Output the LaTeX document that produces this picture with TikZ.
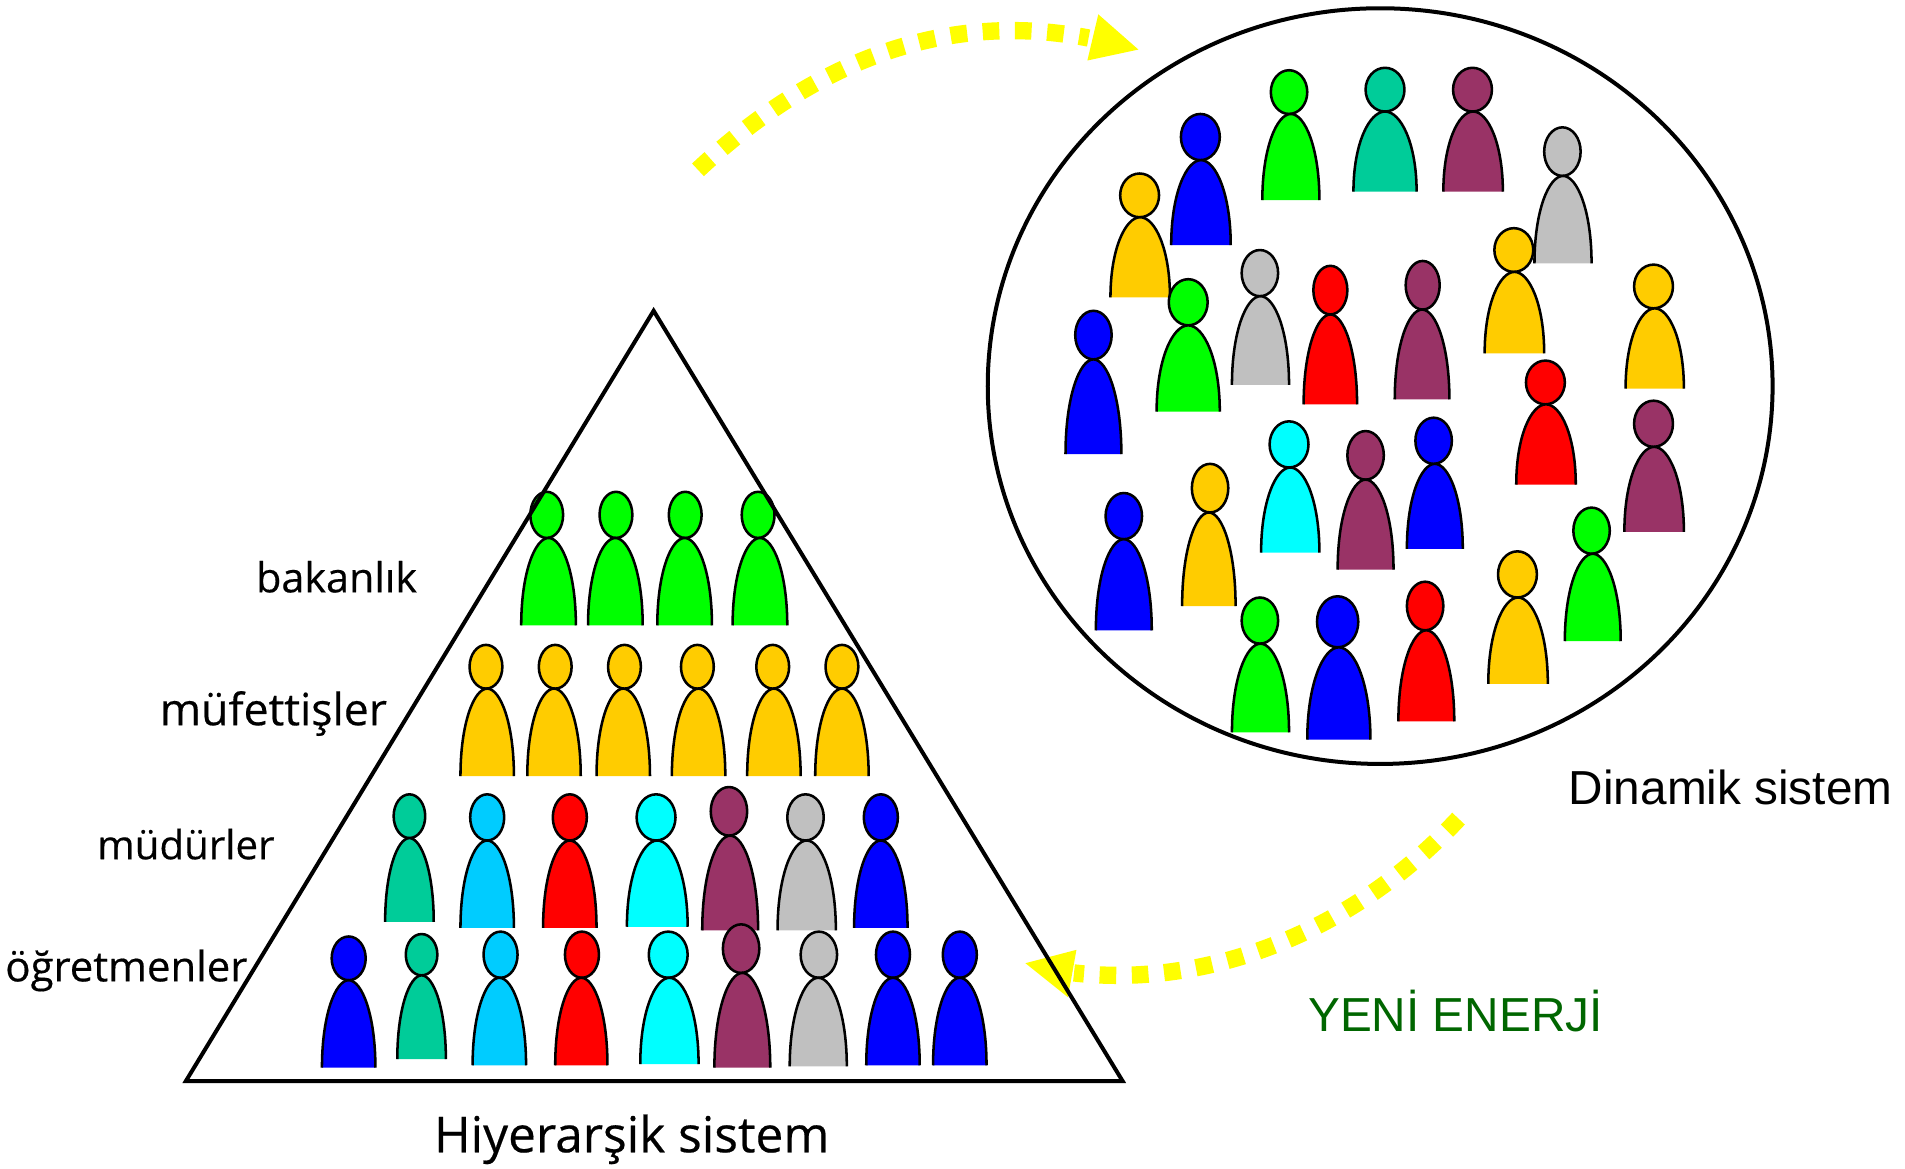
\documentclass[tikz,border=0pt]{standalone}
\usepackage{fontspec}
\setmainfont{Liberation Sans}
\newfontfamily\handfont[FakeBold=0.4]{Open Sans}
\definecolor{cgreen}{RGB}{0,255,0}
\definecolor{cgold}{RGB}{255,204,0}
\definecolor{cteal}{RGB}{0,204,153}
\definecolor{csky}{RGB}{0,204,255}
\definecolor{cred}{RGB}{255,0,0}
\definecolor{ccyan}{RGB}{0,255,255}
\definecolor{cplum}{RGB}{153,51,102}
\definecolor{csilver}{RGB}{192,192,192}
\definecolor{cblue}{RGB}{0,0,255}
\definecolor{cyellow}{RGB}{255,255,0}
\definecolor{cleaf}{RGB}{0,102,0}
\tikzset{
  figure/.style={draw=black,line width=1.9pt},
  frame/.style={draw=black,line width=3pt,line join=miter},
  flow/.style={draw=cyellow,line width=13pt,dash pattern=on 12.5pt off 11.7pt},
  flowhead/.style={fill=cyellow},
  rowlabel/.style={inner sep=0pt},
  syslabel/.style={font=\fontsize{35.8}{42}\selectfont,inner sep=0pt},
}
% head x, head y, head radius, body left, body right, body top, body bottom, colour
\newcommand{\person}[8]{%
  \pgfmathsetmacro{\bmid}{(#4+#5)/2}
  \pgfmathsetmacro{\bhw}{(#5-#4)/2}
  \pgfmathsetmacro{\bh}{#7-#6}
  \pgfmathsetmacro{\hry}{#6-#2}
  \draw[figure,fill=#8] (#1,#2) ellipse [x radius=#3, y radius=\hry];
  \fill[#8] (#4,#7) .. controls (#4,{#7-0.6*\bh}) and ({\bmid-0.5*\bhw},#6) .. (\bmid,#6)
    .. controls ({\bmid+0.5*\bhw},#6) and (#5,{#7-0.6*\bh}) .. (#5,#7) -- cycle;
  \draw[figure] (#4,#7) .. controls (#4,{#7-0.6*\bh}) and ({\bmid-0.5*\bhw},#6) .. (\bmid,#6)
    .. controls ({\bmid+0.5*\bhw},#6) and (#5,{#7-0.6*\bh}) .. (#5,#7);
}
\begin{document}
\begin{tikzpicture}[x=0.9112pt,y=0.9112pt,yscale=-1,xscale=1]
\useasboundingbox (0,-0.8) rectangle (1568,961.2);

% bakanlik
\foreach \hx/\bl in {450/429,507/484,564/541,624/603}
  \person{\hx}{423}{13.5}{\bl}{\the\numexpr\bl+45\relax}{442}{514}{cgreen};
% mufettisler
\foreach \hx/\bl in {400/379,457/434,514/491,574/553,636/615,693/671}
  \person{\hx}{548}{13.5}{\bl}{\the\numexpr\bl+44\relax}{566}{638}{cgold};
% mudurler
\foreach \hx/\hy/\rx/\bl/\br/\bt/\bb/\col in {
  337/671/13/317/357/689/758/cteal,
  401/672/14/379/423/691/763/csky,
  469/672/14/447/491/691/763/cred,
  540/672/16/516/566/691/762/ccyan,
  600/667/15/578/624/687/765/cplum,
  663/672/15/640/688/691/765/csilver,
  725/672/14/703/747/691/763/cblue}
  \person{\hx}{\hy}{\rx}{\bl}{\br}{\bt}{\bb}{\col};
% ogretmenler
\foreach \hx/\hy/\rx/\bl/\br/\bt/\bb/\col in {
  287/788/14/265/309/806/878/cblue,
  347/785/13/327/367/802/871/cteal,
  412/785/14/389/433/804/876/csky,
  479/785/14/457/500/804/876/cred,
  550/785/16/527/575/804/875/ccyan,
  610/780/15/588/634/800/878/cplum,
  674/785/15/650/697/804/877/csilver,
  735/785/14/713/757/804/876/cblue,
  790/785/14/768/812/804/876/cblue}
  \person{\hx}{\hy}{\rx}{\bl}{\br}{\bt}{\bb}{\col};

% dinamik grup
\foreach \hx/\hy/\rx/\bl/\br/\bt/\bb/\col in {
  1061/75/15/1039/1086/93/164/cgreen,
  1140/73/16/1114/1166/91/157/cteal,
  1212/73/16/1188/1237/91/157/cplum,
  988/112/16/964/1013/131/201/cblue,
  1286/124/15/1263/1310/144/216/csilver,
  938/160/16/914/963/178/244/cgold,
  1246/205/16/1222/1271/223/290/cgold,
  1037/224/15/1014/1061/243/316/csilver,
  1095/238/14/1073/1117/258/332/cred,
  1171/234/14/1148/1193/254/328/cplum,
  978/248/16/952/1004/267/338/cgreen,
  1361/235/16/1338/1386/253/319/cgold,
  900/275/15/877/923/295/373/cblue,
  1272/314/16/1248/1297/332/398/cred,
  1361/348/16/1337/1386/367/437/cplum,
  1061/365/16/1038/1086/384/454/ccyan,
  1124/374/15/1101/1147/394/468/cplum,
  1180/362/15/1158/1204/381/451/cblue,
  996/401/15/973/1017/421/498/cgold,
  925/424/15/902/948/443/518/cblue,
  1310/436/15/1288/1334/455/527/cgreen,
  1249/472/16/1225/1274/491/562/cgold,
  1173/498/15/1151/1197/518/593/cred,
  1101/511/17/1076/1128/532/608/cblue,
  1037/510/15/1014/1061/529/602/cgreen}
  \person{\hx}{\hy}{\rx}{\bl}{\br}{\bt}{\bb}{\col};

% yellow arrows
\coordinate (topstart) at (574.5,139);
\coordinate (topend) at (896,30.5);
\coordinate (lowstart) at (1200.5,673);
\coordinate (lowend) at (884,800);
\draw[flow] (topstart) .. controls (680,40) and (790,10) .. (topend);
\fill[flowhead] (904,11) -- (937,40) -- (895,49) -- cycle;
\draw[flow] (lowstart) .. controls (1110,770) and (990,812) .. (lowend);
\fill[flowhead] (886,781) -- (844,792) -- (879,820) -- cycle;

% outlines
\draw[frame] (538,255) -- (924,889) -- (153,889) -- cycle;
\draw[draw=black,line width=3pt] (1136,317) ellipse [x radius=323, y radius=311];

% labels
\node[rowlabel,font=\handfont\fontsize{31}{36}\selectfont] (bakanlik) at (277,474) {bakanlık};
\node[rowlabel,font=\handfont\fontsize{33.4}{40}\selectfont] (mufettis) at (225,586.5) {müfettişler};
\node[rowlabel,font=\handfont\fontsize{30.2}{36}\selectfont] (mudur) at (153,694) {müdürler};
\node[rowlabel,font=\handfont\fontsize{31.4}{36}\selectfont] (ogretmen) at (104,798) {öğretmenler};
\node[rowlabel,font=\handfont\fontsize{37.2}{44}\selectfont] (hiyerarsik) at (520,937) {Hiyerarşik sistem};
\node[syslabel] (dinamik) at (1424.5,647.5) {Dinamik sistem};
\node[syslabel,text=cleaf] (yeni) at (1198,831.5) {YENİ ENERJİ};
\end{tikzpicture}
\end{document}
